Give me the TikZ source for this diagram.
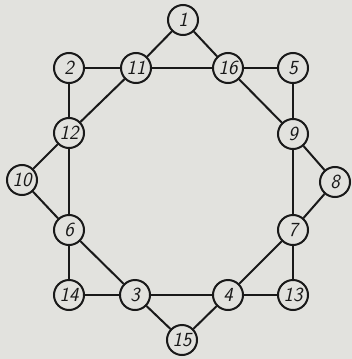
\documentclass[tikz,border=0pt]{standalone}
\definecolor{bg}{RGB}{226,226,222}
\definecolor{ink}{RGB}{25,25,25}
\begin{document}
\begin{tikzpicture}[x=1pt,y=-1pt,
  vtx/.style={circle,draw=ink,line width=2pt,fill=bg,minimum size=30pt,inner sep=0pt,
    font=\sffamily\itshape\fontsize{20}{20}\selectfont,text=ink},
  edge/.style={draw=ink,line width=2pt}]
\fill[bg] (0,0) rectangle (352,359);
\useasboundingbox (0,0) rectangle (352,359);
\node[vtx] (n1) at (183,20) {1};
\node[vtx] (n2) at (69,68) {2};
\node[vtx] (n11) at (136,68) {11};
\node[vtx] (n16) at (228,68) {16};
\node[vtx] (n5) at (293,68) {5};
\node[vtx] (n12) at (69,133) {12};
\node[vtx] (n9) at (293,134) {9};
\node[vtx] (n10) at (22,180) {10};
\node[vtx] (n8) at (335,182) {8};
\node[vtx] (n6) at (69,230) {6};
\node[vtx] (n7) at (293,230) {7};
\node[vtx] (n14) at (69,295) {14};
\node[vtx] (n3) at (135,295) {3};
\node[vtx] (n4) at (228,295) {4};
\node[vtx] (n13) at (293,295) {13};
\node[vtx] (n15) at (182,340) {15};
\foreach \a/\b in {n1/n11,n1/n16,n11/n16,n2/n11,n16/n5,n2/n12,n11/n12,n5/n9,n16/n9,
  n12/n10,n12/n6,n10/n6,n9/n8,n9/n7,n8/n7,n6/n14,n6/n3,n7/n4,n7/n13,n14/n3,n3/n4,n4/n13,n3/n15,n4/n15}
  \draw[edge] (\a) -- (\b);
\end{tikzpicture}
\end{document}
